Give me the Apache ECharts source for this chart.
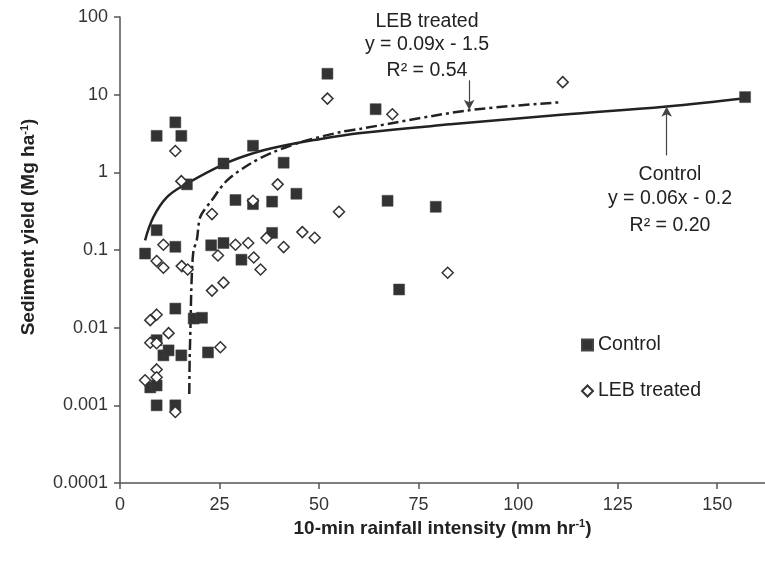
<!DOCTYPE html>
<html>
<head>
<meta charset="utf-8">
<script src="https://cdn.jsdelivr.net/npm/echarts@6/dist/echarts.min.js"></script>
<style>
  html, body { margin: 0; padding: 0; background: #fff; }
  #main { width: 765px; height: 561px; }
</style>
</head>
<body>
<div id="main"></div>
<script>
// control plots (squares)
var ctrlX = [13.9, 9.2, 15.4, 26.0, 16.8, 33.4, 29.0, 9.2, 13.9, 6.3, 33.4, 22.9, 26.0, 30.5, 38.2, 44.3, 38.2, 52.1, 41.1, 64.2, 67.2, 79.3, 70.1, 157,
             13.9, 18.5, 20.6, 9.2, 10.9, 12.2, 15.4, 22.1, 7.6, 9.2, 9.2, 13.9];
var ctrlY = [4.4, 2.95, 2.95, 1.3, 0.70, 2.2, 0.44, 0.18, 0.11, 0.09, 0.39, 0.115, 0.123, 0.075, 0.42, 0.53, 0.166, 18.6, 1.33, 6.5, 0.43, 0.36, 0.031, 9.3,
             0.0176, 0.0131, 0.0134, 0.0069, 0.0044, 0.0051, 0.0044, 0.0048, 0.0017, 0.0018, 0.001, 0.001];
// LEB treated plots (diamonds)
var lebX = [13.9, 15.4, 33.4, 23.1, 10.9, 9.2, 10.9, 15.5, 17.0, 24.6, 29.0, 32.2, 26.0, 23.1, 55.0, 36.8, 45.8, 48.9, 41.1, 33.6, 35.3, 52.1, 39.6, 68.4, 111.2, 82.3,
            7.6, 9.2, 12.2, 7.6, 9.2, 25.2, 9.2, 6.3, 9.2, 13.9];
var lebY = [1.88, 0.77, 0.43, 0.29, 0.117, 0.072, 0.059, 0.062, 0.056, 0.085, 0.117, 0.123, 0.038, 0.030, 0.31, 0.143, 0.17, 0.144, 0.109, 0.080, 0.056, 8.9, 0.70, 5.6, 14.5, 0.051,
            0.0125, 0.0147, 0.0085, 0.0064, 0.0063, 0.0056, 0.0029, 0.0021, 0.0023, 0.00082];
// trend lines
var ctrlFitX = [6.3, 8.4, 11.8, 16.8, 26.0, 33.6, 39.5, 48.7, 60.5, 83, 110.8, 137.3, 157];
var ctrlFitY = [0.133, 0.266, 0.48, 0.716, 1.27, 1.77, 2.12, 2.6, 3.2, 4.15, 5.5, 7.05, 9.0];
var lebFitX = [17.4, 17.5, 17.7, 17.9, 18.2, 18.5, 19.3, 20.2, 23.1, 26.9, 32.7, 38.6, 46.0, 55.4, 60.5, 87.7, 110.8];
var lebFitY = [0.0014, 0.004, 0.01, 0.03, 0.07, 0.1, 0.135, 0.27, 0.44, 0.79, 1.29, 1.83, 2.5, 3.3, 3.65, 6.3, 8.0];

function pairs(xs, ys) {
    return xs.map(function (x, i) { return [x, ys[i]]; });
}

var myChart = echarts.init(document.getElementById('main'));
var font = 'Liberation Sans, Arial, sans-serif';

// annotation text, centred on x/y
function note(text, x, y) {
    return {
        type: 'text', x: x, y: y,
        style: { text: text, font: '19.5px ' + font, fill: '#222', textAlign: 'center', textVerticalAlign: 'middle' }
    };
}

option = {
    backgroundColor: '#fff',
    animation: false,
    textStyle: { fontFamily: font },
    grid: { left: 120, right: 0, top: 17, bottom: 78 },
    legend: {
        orient: 'vertical',
        left: 576,
        top: 330,
        itemGap: 26,
        itemWidth: 11,
        itemHeight: 11,
        textStyle: { fontSize: 19.5, color: '#222', fontFamily: font },
        data: [{ name: 'Control', icon: 'rect' }, { name: 'LEB treated', icon: 'diamond' }]
    },
    xAxis: {
        type: 'value',
        min: 0,
        max: 162,
        interval: 25,
        name: '10-min rainfall intensity (mm hr{sup|-1})',
        nameLocation: 'middle',
        nameGap: 27,
        nameTextStyle: {
            fontSize: 19, fontWeight: 'bold', color: '#222', fontFamily: font,
            rich: { sup: { fontSize: 11, fontWeight: 'bold', verticalAlign: 'top', color: '#222' } }
        },
        splitLine: { show: false },
        axisLine: { lineStyle: { color: '#555', width: 1.5 } },
        axisTick: { lineStyle: { color: '#555', width: 1.5 }, length: 6 },
        axisLabel: { fontSize: 18, color: '#333', margin: 13, showMaxLabel: false }
    },
    yAxis: {
        type: 'log',
        logBase: 10,
        min: 0.0001,
        max: 100,
        name: 'Sediment yield (Mg ha{sup|-1})',
        nameLocation: 'middle',
        nameGap: 82,
        nameTextStyle: {
            fontSize: 19, fontWeight: 'bold', color: '#222', fontFamily: font,
            padding: [0, 0, 0, 46],
            rich: { sup: { fontSize: 11, fontWeight: 'bold', verticalAlign: 'top', color: '#222' } }
        },
        splitLine: { show: false },
        axisLine: { lineStyle: { color: '#555', width: 1.5 } },
        axisTick: { lineStyle: { color: '#555', width: 1.5 }, length: 6 },
        axisLabel: {
            fontSize: 18, color: '#333', margin: 12,
            formatter: function (v) { return String(Number(v.toPrecision(1))); }
        }
    },
    series: [
        {
            name: 'ctrlFit',
            type: 'line',
            data: pairs(ctrlFitX, ctrlFitY),
            smooth: 0.4,
            symbol: 'none',
            lineStyle: { color: '#222', width: 2.5 },
            z: 2,
            markLine: {
                silent: true,
                symbol: ['none', 'arrow'],
                symbolSize: [8, 10],
                label: { show: false },
                lineStyle: { color: '#444', width: 1.2, type: 'solid' },
                data: [
                    [{ coord: [137.3, 1.65] }, { coord: [137.3, 7.0] }],
                    [{ coord: [87.7, 15.3] }, { coord: [87.7, 6.4] }]
                ]
            }
        },
        {
            name: 'lebFit',
            type: 'line',
            data: pairs(lebFitX, lebFitY),
            smooth: 0.3,
            symbol: 'none',
            lineStyle: { color: '#222', width: 2.5, type: [11, 4, 3, 4] },
            z: 2
        },
        {
            name: 'Control',
            type: 'scatter',
            data: pairs(ctrlX, ctrlY),
            symbol: 'rect',
            symbolSize: 11,
            itemStyle: { color: '#333', borderColor: '#444', borderWidth: 0.5, opacity: 1 },
            z: 3
        },
        {
            name: 'LEB treated',
            type: 'scatter',
            data: pairs(lebX, lebY),
            symbol: 'diamond',
            symbolSize: 11,
            itemStyle: { color: '#fff', borderColor: '#333', borderWidth: 1.5, opacity: 1 },
            z: 4
        }
    ],
    graphic: [
        note('LEB treated', 427, 22),
        note('y = 0.09x - 1.5', 427, 45),
        note('R\u00b2 = 0.54', 427, 71),
        note('Control', 670, 175),
        note('y = 0.06x - 0.2', 670, 199),
        note('R\u00b2 = 0.20', 670, 226)
    ]
};

myChart.setOption(option);
</script>
</body>
</html>
